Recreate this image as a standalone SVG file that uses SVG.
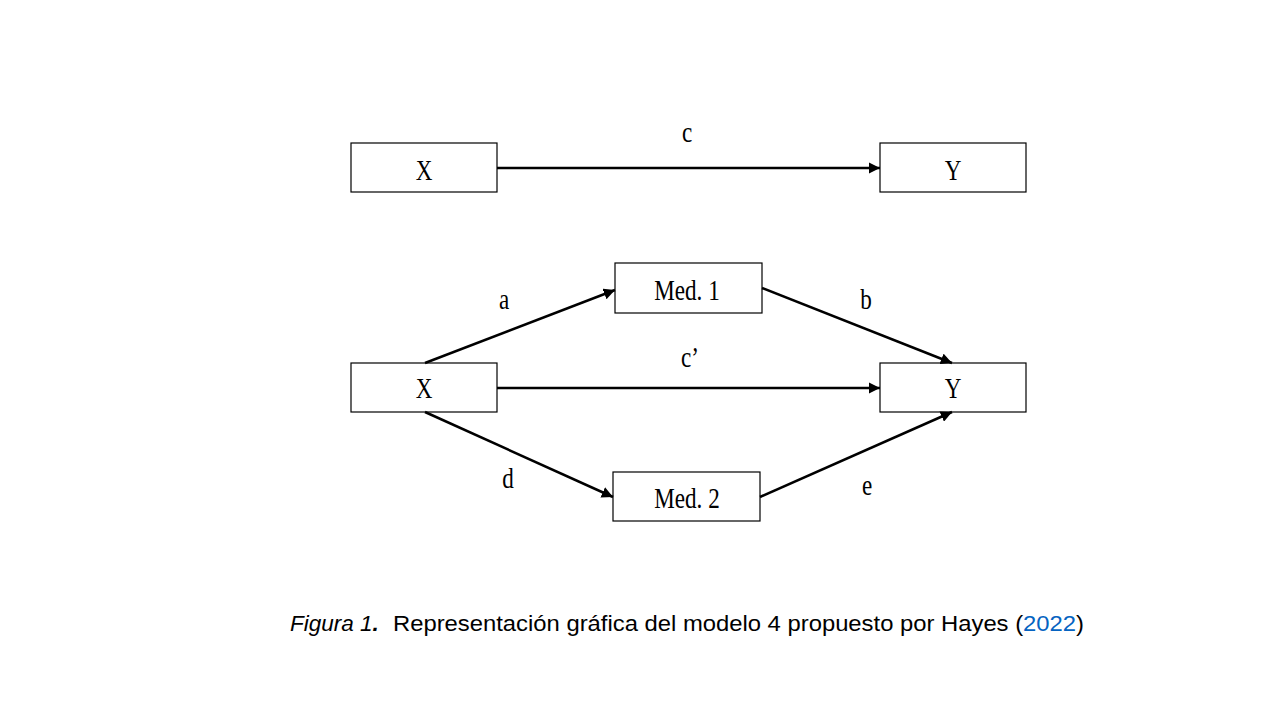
<svg xmlns="http://www.w3.org/2000/svg" width="1280" height="720" viewBox="0 0 1280 720">
<defs>
<marker id="ah" viewBox="0 0 10 10" refX="10" refY="5" markerWidth="4.5" markerHeight="4.5" orient="auto" markerUnits="strokeWidth">
<path d="M0,0 L10,5 L0,10 z" fill="#000"/>
</marker>
</defs>
<style>
.box{fill:#fff;stroke:#000;stroke-width:1.2}
.lbl{font-family:"Liberation Serif","Times New Roman",serif;font-size:30px;fill:#000;text-anchor:middle}
.con{stroke:#000;stroke-width:2.5;fill:none;marker-end:url(#ah)}
.cap{font-family:"Liberation Sans",Arial,sans-serif;font-size:22.5px;fill:#000}
</style>
<rect width="1280" height="720" fill="#fff"/>
<g id="X1"><rect class="box" x="351" y="143" width="146" height="49"/><text class="lbl" transform="translate(424 180) scale(0.77 1)">X</text></g>
<g id="Y1"><rect class="box" x="880" y="143" width="146" height="49"/><text class="lbl" transform="translate(953 180) scale(0.77 1)">Y</text></g>
<g id="X2"><rect class="box" x="351" y="363" width="146" height="49"/><text class="lbl" transform="translate(424 398) scale(0.77 1)">X</text></g>
<g id="Y2"><rect class="box" x="880" y="363" width="146" height="49"/><text class="lbl" transform="translate(953 398) scale(0.77 1)">Y</text></g>
<g id="M1"><rect class="box" x="615" y="263" width="147" height="50"/><text class="lbl" transform="translate(687 300) scale(0.77 1)">Med. 1</text></g>
<g id="M2"><rect class="box" x="613" y="472" width="147" height="49"/><text class="lbl" transform="translate(687 508) scale(0.77 1)">Med. 2</text></g>
<g id="connectors">
<line class="con" x1="497" y1="168" x2="880" y2="168"/>
<line class="con" x1="497" y1="388" x2="880" y2="388"/>
<line class="con" x1="425" y1="363" x2="615" y2="290"/>
<line class="con" x1="762" y1="288" x2="952" y2="363"/>
<line class="con" x1="425" y1="412" x2="613" y2="497"/>
<line class="con" x1="760" y1="497" x2="952" y2="412"/>
</g>
<g id="labels">
<text class="lbl" transform="translate(687 142) scale(0.77 1)">c</text>
<text class="lbl" transform="translate(504 309) scale(0.77 1)">a</text>
<text class="lbl" transform="translate(866 309) scale(0.77 1)">b</text>
<text class="lbl" transform="translate(690 367) scale(0.77 1)">c’</text>
<text class="lbl" transform="translate(508 488) scale(0.77 1)">d</text>
<text class="lbl" transform="translate(867 495) scale(0.77 1)">e</text>
</g>
<g id="caption">
<text class="cap" x="290" y="631"><tspan font-style="italic">Figura 1</tspan><tspan font-style="italic" font-weight="bold">.</tspan></text>
<text class="cap" x="393" y="631" textLength="691" lengthAdjust="spacingAndGlyphs">Representación gráfica del modelo 4 propuesto por Hayes (<tspan fill="#0563C1">2022</tspan>)</text>
</g>
</svg>
